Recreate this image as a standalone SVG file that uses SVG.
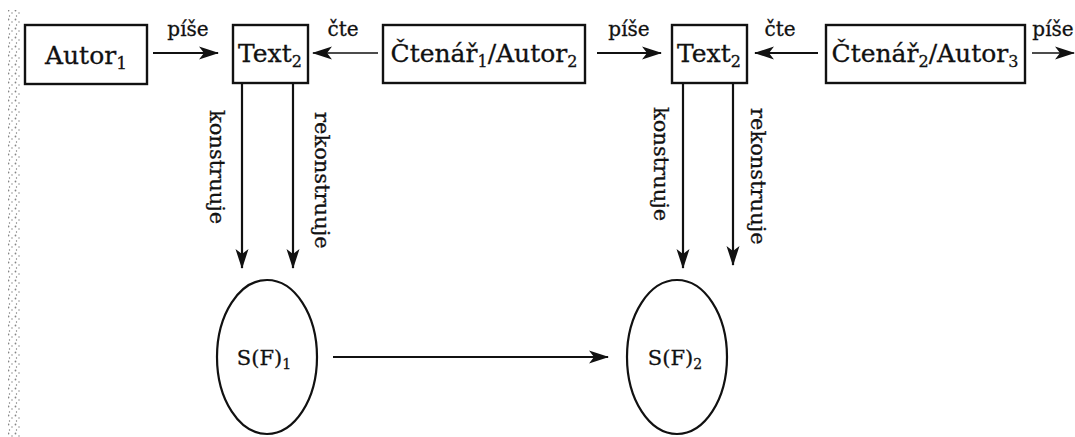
<svg xmlns="http://www.w3.org/2000/svg" width="1075" height="437" viewBox="0 0 1075 437">
  <defs>
    <style>
      .box { fill: none; stroke: #111; stroke-width: 2.4; }
      .oval { fill: none; stroke: #111; stroke-width: 2.2; }
      .edge { fill: none; stroke: #111; stroke-width: 2.2; marker-end: url(#head); }
      .edge.thin { stroke-width: 1.5; }
      .lbl { font-family: "DejaVu Serif", "Liberation Serif", serif; fill: #111; stroke: #111; stroke-width: 0.3; }
      .node-t { font-size: 25px; text-anchor: middle; }
      .verb { font-size: 20px; text-anchor: middle; }
      .vert { font-size: 21px; }
      .set { font-size: 21px; text-anchor: middle; }
    </style>
    <marker id="head" viewBox="0 0 20 14" markerWidth="20" markerHeight="14" refX="19" refY="7" orient="auto" markerUnits="userSpaceOnUse">
      <path d="M0,0.5 L20,7 L0,13.5 L5,7 Z" fill="#111"/>
    </marker>
    <!-- speckled margin strip -->
    <pattern id="grain" width="7" height="9" patternUnits="userSpaceOnUse">
      <circle cx="1.5" cy="1.5" r="0.9" fill="#777"/>
      <circle cx="5" cy="4" r="0.8" fill="#888"/>
      <circle cx="2.5" cy="7" r="0.7" fill="#666"/>
    </pattern>
  </defs>

  <rect x="0" y="0" width="1075" height="437" fill="#ffffff"/>
  <rect x="8" y="10" width="13" height="427" fill="url(#grain)" opacity="0.9"/>

  <!-- connectors -->
  <g id="connectors">
    <line class="edge" x1="153" y1="53" x2="218" y2="53"/>
    <line class="edge thin" x1="378" y1="53" x2="313" y2="53"/>
    <line class="edge" x1="597" y1="53" x2="661" y2="53"/>
    <line class="edge" x1="818" y1="53" x2="755" y2="53"/>
    <line class="edge thin" x1="1032" y1="53" x2="1074" y2="53"/>

    <line class="edge" x1="242" y1="83" x2="242" y2="268"/>
    <line class="edge" x1="293" y1="83" x2="293" y2="268"/>
    <line class="edge" x1="683" y1="84" x2="683" y2="268"/>
    <line class="edge" x1="733" y1="84" x2="733" y2="265"/>

    <line class="edge" x1="333" y1="357" x2="608" y2="357"/>

    <text class="lbl verb" x="188" y="36">píše</text>
    <text class="lbl verb" x="343" y="36">čte</text>
    <text class="lbl verb" x="629" y="36">píše</text>
    <text class="lbl verb" x="780" y="36">čte</text>
    <text class="lbl verb" x="1053" y="36">píše</text>

    <text class="lbl vert" transform="translate(210,110) rotate(90)">konstruuje</text>
    <text class="lbl vert" transform="translate(315,112) rotate(90)">rekonstruuje</text>
    <text class="lbl vert" transform="translate(654,107) rotate(90)">konstruuje</text>
    <text class="lbl vert" transform="translate(751,108) rotate(90)">rekonstruuje</text>
  </g>

  <g id="autor1">
    <rect class="box" x="25" y="25" width="122" height="59"/>
    <text class="lbl node-t" x="86" y="64" font-size="27">Autor<tspan font-size="17" dy="5">1</tspan></text>
  </g>

  <g id="text2-a">
    <rect class="box" x="233" y="25" width="75" height="58"/>
    <text class="lbl node-t" x="270" y="62">Text<tspan font-size="16" dy="5">2</tspan></text>
  </g>

  <g id="ctenar1-autor2">
    <rect class="box" x="383" y="25" width="202" height="58"/>
    <text class="lbl node-t" x="484" y="62">Čtenář<tspan font-size="16" dy="5">1</tspan><tspan dy="-5">/Autor</tspan><tspan font-size="16" dy="5">2</tspan></text>
  </g>

  <g id="text2-b">
    <rect class="box" x="672" y="25" width="75" height="58"/>
    <text class="lbl node-t" x="709" y="62">Text<tspan font-size="16" dy="5">2</tspan></text>
  </g>

  <g id="ctenar2-autor3">
    <rect class="box" x="826" y="25" width="199" height="58"/>
    <text class="lbl node-t" x="925" y="62">Čtenář<tspan font-size="16" dy="5">2</tspan><tspan dy="-5">/Autor</tspan><tspan font-size="16" dy="5">3</tspan></text>
  </g>

  <g id="sf1">
    <ellipse class="oval" cx="267" cy="357" rx="50" ry="77"/>
    <text class="lbl set" x="264" y="365">S(F)<tspan font-size="14" dy="4">1</tspan></text>
  </g>

  <g id="sf2">
    <ellipse class="oval" cx="677" cy="357" rx="50" ry="77"/>
    <text class="lbl set" x="675" y="365">S(F)<tspan font-size="14" dy="4">2</tspan></text>
  </g>
</svg>
